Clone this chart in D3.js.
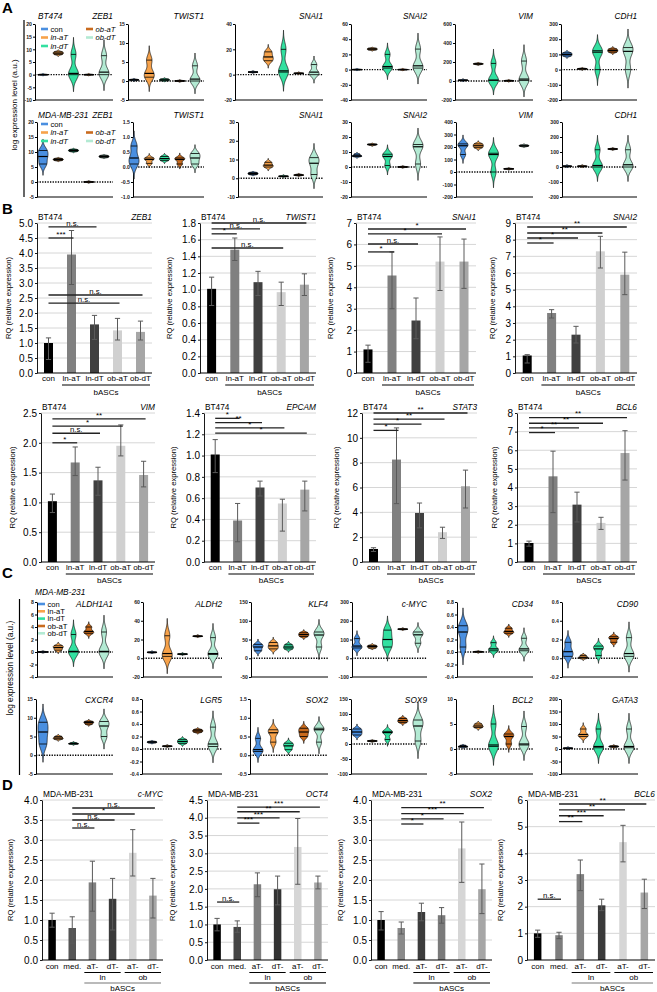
<!DOCTYPE html>
<html><head><meta charset="utf-8">
<script src="https://cdn.jsdelivr.net/npm/d3@7"></script>
<style>body{margin:0;background:#fff}svg{display:block}</style>
</head><body>
<svg id="fig" width="657" height="992"></svg>
<script>
// ===================== DATA =====================
const groupsV = ["con","ln-aT","ln-dT","ob-aT","ob-dT"];
// Panel A
const genesA = ["ZEB1","TWIST1","SNAI1","SNAI2","VIM","CDH1"];
const violinsA_BT474 = [
  [[0,0,0],[8,8.5,9],[0,0.5,8],[0,0,0],[0,1,7.5]],
  [[0.2,0.3,0.4],[1,2,5.5],[0.1,0.3,0.5],[0,0,0.05],[0,0.5,4]],
  [[2,2,2.2],[11,14,18],[2,3,20],[1,1,1.2],[0,2,8]],
  [[0,0,0.1],[26,27,28],[2,4,20],[0,0,0.1],[2,5,27]],
  [[5,8,10],[175,180,185],[5,10,185],[2,2,4],[5,20,210]],
  [[90,100,110],[3,5,7],[0,115,125],[115,125,135],[0,120,145]]
];
const domainsA_BT474 = [[-10,20],[-5,15],[-20,40],[-40,60],[-200,600],[-200,300]];
const stepsA_BT474 = [5,5,20,20,200,100];
const violinsA_MDA = [
  [[6,8.5,10.5],[7.2,7.5,7.8],[10.2,10.5,10.8],[0,0,0.05],[8.2,8.5,8.8]],
  [[0.1,0.3,0.7],[0.12,0.25,0.3],[0.22,0.28,0.35],[0.1,0.25,0.3],[0.1,0.3,0.45]],
  [[2,2.5,3],[6,7,8.5],[1,1,1.2],[1.5,1.7,2],[2,8,11]],
  [[7,7.5,8.5],[14.6,15,15.2],[1,7,8.5],[0,0,0.1],[2,13.5,15]],
  [[140,210,225],[195,210,225],[0,140,150],[25,25,26],[205,210,215]],
  [[3,5,7],[3,5,7],[0,10,115],[118,120,122],[0,15,115]]
];
const domainsA_MDA = [[-5,20],[-1,1.5],[-10,30],[-20,30],[-200,400],[-200,300]];
const stepsA_MDA = [5,0.5,10,10,100,100];
// Panel C
const genesC1 = ["ALDH1A1","ALDH2","KLF4","c-MYC","CD34","CD90"];
const violinsC1 = [
  [[0,0,0.02],[0.3,0.7,1.0],[0,0.1,2.8],[3,3.3,4],[0,0.1,3.2]],
  [[6,6.3,6.6],[2,5,24],[4.2,4.4,4.6],[23.2,23.5,23.8],[4,5,22]],
  [[20,30,37],[25,33,42],[25,30,36],[58,63,68],[30,62,70]],
  [[55,65,105],[55,62,68],[60,100,150],[154,155,156],[80,125,140]],
  [[0.08,0.32,0.42],[0,0.003,0.006],[0.02,0.05,0.15],[0.3,0.33,0.38],[0.02,0.05,0.22]],
  [[0.02,0.07,0.17],[0,0.01,0.03],[0.03,0.1,0.13],[0.17,0.21,0.23],[0.02,0.05,0.22]]
];
const domainsC1 = [[-4,8],[-20,60],[-50,150],[-100,300],[-0.4,0.8],[-0.2,0.6]];
const stepsC1 = [2,20,50,100,0.2,0.2];
const genesC2 = ["CXCR4","LGR5","SOX2","SOX9","BCL2","GATA3"];
const violinsC2 = [
  [[3,6.2,8.8],[4.3,4.6,5],[3,3.1,3.3],[8.3,8.7,9],[5,7.8,9]],
  [[0.1,0.11,0.12],[0.04,0.045,0.05],[0.09,0.12,0.15],[0.27,0.29,0.31],[0.04,0.08,0.35]],
  [[0.1,0.15,0.45],[0.35,0.6,0.68],[0.15,0.25,0.32],[0.5,0.62,0.72],[0.35,0.68,0.72]],
  [[30,40,50],[9,10,11],[15,38,42],[72,78,85],[10,60,80]],
  [[0.4,0.5,0.7],[4.3,4.6,5],[0.5,0.8,5],[1,2.5,3],[0.8,1,4.5]],
  [[2,3,4],[50,58,80],[5,10,80],[8,10,12],[5,10,80]]
];
const domainsC2 = [[-5,15],[-0.4,0.8],[-0.5,1.5],[-100,150],[-5,10],[-100,200]];
const stepsC2 = [5,0.2,0.5,50,5,50];
// Panel B
const groupsB = ["con","ln-aT","ln-dT","ob-aT","ob-dT"];
const genesB = ["ZEB1","TWIST1","SNAI1","SNAI2","VIM","EPCAM","STAT3","BCL6"];
const meanB = [
  [1.00,3.95,1.62,1.42,1.37],[1.01,1.48,1.09,0.97,1.06],[1.10,4.55,2.45,5.20,5.20],[1.05,3.60,2.30,7.30,5.90],
  [1.02,1.67,1.37,1.95,1.46],[1.01,0.39,0.70,0.55,0.68],[1.05,8.25,3.95,2.40,6.10],[1.02,4.60,3.08,2.10,5.85]];
const errLowB = [
  [0.45,2.95,1.12,1.10,1.10],[0.81,1.35,0.93,0.81,0.93],[0.50,3.00,1.60,3.85,3.95],[0.60,3.30,1.80,6.30,4.70],
  [0.83,1.45,1.12,1.78,1.26],[0.84,0.19,0.62,0.29,0.48],[0.85,4.70,2.75,1.90,4.35],[0.85,2.65,2.15,1.75,4.40]];
const errHighB = [
  [1.17,4.75,1.92,1.82,1.73],[1.15,1.62,1.22,1.09,1.19],[1.30,5.65,3.50,6.35,6.25],[1.10,3.80,2.80,8.20,7.25],
  [1.14,1.93,1.59,2.30,1.69],[1.15,0.55,0.76,0.59,0.76],[1.15,10.80,4.75,2.80,7.40],[1.12,5.95,3.75,2.40,7.05]];
const yMaxB = [5,1.8,7,9,2.5,1.4,12,8];
const yStepB = [0.5,0.2,1,1,0.5,0.2,2,1];
// significance: [fromIndex, toIndex, yValue, label]
const sigB = [
  [[0,2,4.87,"n.s."],[0,1,4.5,"***"],[0,4,2.6,"n.s."],[0,3,2.33,"n.s."]],
  [[0,4,1.8,"n.s."],[0,2,1.73,"n.s."],[0,1,1.67,"*"],[0,3,1.5,"n.s."]],
  [[0,4,6.72,"*"],[0,3,6.49,"*"],[0,2,6.02,"n.s."],[0,1,5.65,"*"]],
  [[0,4,8.76,"**"],[0,3,8.4,"**"],[0,2,8.1,"*"],[0,1,7.8,"*"]],
  [[0,4,2.4,"**"],[0,3,2.28,"*"],[0,2,2.16,"n.s."],[0,1,2.0,"*"]],
  [[0,1,1.35,"*"],[0,2,1.31,"**"],[0,3,1.26,"*"],[0,4,1.21,"*"]],
  [[0,4,12.0,"**"],[0,3,11.5,"**"],[0,2,11.1,"*"],[0,1,10.6,"*"]],
  [[0,4,7.75,"**"],[0,3,7.45,"**"],[0,2,7.2,"**"],[0,1,6.95,"*"]]];
// Panel D
const groupsD = ["con","med.","aT-","dT-","aT-","dT-"];
const subGroupsD = [["ln",2,3],["ob",4,5]];
const genesD = ["c-MYC","OCT4","SOX2","BCL6"];
const meanD = [[1.00,0.80,1.94,1.53,2.68,1.61],[1.00,0.93,2.13,1.99,3.18,2.18],[1.00,0.80,1.20,1.12,2.79,1.77],[1.00,0.93,3.22,2.05,4.42,2.53]];
const errLowD = [[0.82,0.42,1.22,0.75,2.10,1.05],[0.82,0.78,1.78,1.55,2.13,2.00],[0.75,0.65,0.98,0.92,1.94,1.16],[0.85,0.80,2.60,1.85,3.68,1.93]];
const errHighD = [[1.17,1.08,2.47,2.04,3.26,2.04],[1.17,1.10,2.45,2.36,3.98,2.36],[1.21,0.95,1.42,1.31,3.45,2.40],[1.12,1.04,3.75,2.28,5.05,3.03]];
const yMaxD = [4,4.5,4,6];
const yStepD = [0.5,0.5,0.5,1];
const sigD = [
  [[1,5,3.8,"n.s."],[1,4,3.65,"*"],[1,3,3.5,"n.s."],[1,2,3.3,"n.s."]],
  [[1,5,4.3,"***"],[1,4,4.17,"**"],[1,3,4.0,"***"],[1,2,3.85,"***"],[0,1,1.63,"n.s."]],
  [[1,5,3.81,"**"],[1,4,3.66,"***"],[1,3,3.53,"*"],[1,2,3.4,"*"]],
  [[1,5,5.85,"**"],[1,4,5.63,"**"],[1,3,5.41,"***"],[1,2,5.19,"**"],[0,1,2.28,"n.s."]]];

// ===================== STYLE / LAYOUT =====================
const FONT = "'Liberation Sans', Arial, Helvetica, sans-serif";
const vColors = {"con":"#4a8fe0","ln-aT":"#f7a24a","ln-dT":"#33e0a0","ob-aT":"#c96b1e","ob-dT":"#b3ead3"};
const barColorsB = ["#000000","#808080","#404040","#d0d0d0","#a6a6a6"];
const barColorsD = [
  ["#000000","#555555","#808080","#3a3a3a","#d6d6d6","#a6a6a6"],
  ["#000000","#454545","#808080","#333333","#d6d6d6","#a6a6a6"],
  ["#000000","#8a8a8a","#3c3c3c","#7a7a7a","#d6d6d6","#a6a6a6"],
  ["#000000","#7d7d7d","#808080","#3a3a3a","#d6d6d6","#a6a6a6"]];

const svg = d3.select("#fig").style("font-family", FONT);
const fmt = (v, step) => { const r = Math.abs(v) < 1e-9 ? 0 : v; return r.toFixed(step >= 1 ? 0 : 1); };

function letter(t, x, y){ svg.append("text").attr("x",x).attr("y",y).attr("font-size",15).attr("font-weight","bold").text(t); }
function vtext(t, x, y, size){
  svg.append("text").attr("transform",`translate(${x},${y}) rotate(-90)`).attr("text-anchor","middle")
    .attr("font-size",size).text(t);
}

// ---------- violin ----------
function drawViolin(g, vals, y, cx, hw, color){
  const s = vals.slice().sort((a,b)=>a-b);
  const dom = y.domain(); const span = dom[1]-dom[0];
  const rng = s[s.length-1]-s[0];
  const h = Math.max(0.28*rng, 0.006*span);
  const lo = s[0]-3*h, hi = s[s.length-1]+3*h;
  const dens = v => d3.sum(s, x => Math.exp(-0.5*((v-x)/h)**2));
  const pts = d3.range(81).map(i => { const v = lo+(hi-lo)*i/80; return [v, dens(v)]; });
  const dmax = d3.max(pts, p=>p[1]);
  const area = d3.area().y(p=>y(p[0])).x0(p=>cx-hw*p[1]/dmax).x1(p=>cx+hw*p[1]/dmax).curve(d3.curveBasis);
  g.append("path").attr("d", area(pts)).attr("fill", color).attr("stroke","#111").attr("stroke-width",0.7);
  s.forEach((v,i) => {
    const w = hw*dens(v)/dmax;
    g.append("line").attr("x1",cx-w).attr("x2",cx+w).attr("y1",y(v)).attr("y2",y(v))
      .attr("stroke","#000").attr("stroke-width", i===1 ? 1.2 : 0.8);
  });
}

function violinPlot(o){
  const g = svg.append("g");
  const y = d3.scaleLinear().domain(o.domain).range([o.bottom, o.top]);
  const x = d3.scalePoint().domain(groupsV).range([o.x1-70, o.x1-9]);
  const ticks = d3.range(o.domain[0], o.domain[1]+o.step/2, o.step);
  const ax = g.append("g").attr("transform",`translate(${o.x0},0)`)
    .call(d3.axisLeft(y).tickValues(ticks).tickSize(2).tickSizeOuter(0).tickFormat(v=>fmt(v,o.step)));
  ax.selectAll("path,line").attr("stroke","#000").attr("stroke-width",1);
  ax.selectAll("text").attr("font-size",5.2).attr("font-weight","bold").attr("fill","#222").attr("x",-3).attr("font-family",FONT);
  g.append("line").attr("x1",o.x0).attr("x2",o.x1).attr("y1",o.bottom).attr("y2",o.bottom).attr("stroke","#000").attr("stroke-width",1);
  g.append("line").attr("x1",o.x0).attr("x2",o.x1).attr("y1",y(0)).attr("y2",y(0))
    .attr("stroke","#000").attr("stroke-width",1.3).attr("stroke-dasharray","1.3,1.3");
  o.vals.forEach((v,i) => drawViolin(g, v, y, x(groupsV[i]), 5, vColors[groupsV[i]]));
  g.append("text").attr("x",o.x1).attr("y",o.titleY).attr("text-anchor","end").attr("font-size",8.3)
    .attr("font-style","italic").text(o.gene);
}

function legend(x, items, ys, italic){
  items.forEach((k,i)=>{
    svg.append("line").attr("x1",x).attr("x2",x+7).attr("y1",ys[i]).attr("y2",ys[i]).attr("stroke",vColors[k]).attr("stroke-width",2.6);
    svg.append("text").attr("x",x+9.5).attr("y",ys[i]+2.6).attr("font-size",7.6)
      .attr("font-style", (italic && k!=="con") ? "italic":"normal").text(k);
  });
}

// ---------- bar ----------
function barPlot(o){
  const g = svg.append("g");
  const n = o.mean.length;
  const x = d3.scaleBand().domain(d3.range(n)).range([o.x0, o.x1]);
  const xc = i => x(i) + x.bandwidth()/2;
  const y = d3.scaleLinear().domain([0, o.yMax]).range([o.bottom, o.top]);
  const ticks = d3.range(0, o.yMax + o.step/2, o.step);
  g.selectAll(".grid").data(ticks.slice(1)).enter().append("line")
    .attr("x1",o.x0).attr("x2",o.x1).attr("y1",d=>y(d)).attr("y2",d=>y(d)).attr("stroke","#d6d6d6").attr("stroke-width",1);
  const ax = g.append("g").attr("transform",`translate(${o.x0},0)`)
    .call(d3.axisLeft(y).tickValues(ticks).tickSize(2).tickSizeOuter(0).tickFormat(v=>fmt(v,o.step)));
  ax.selectAll("path,line").attr("stroke","#000").attr("stroke-width",0.9);
  ax.selectAll("text").attr("font-size",o.tickSize).attr("fill","#000").attr("x",-4).attr("font-family",FONT);
  const bw = o.barW;
  g.selectAll(".bar").data(o.mean).enter().append("rect")
    .attr("x",(d,i)=>xc(i)-bw/2).attr("width",bw).attr("y",d=>y(d)).attr("height",d=>y(0)-y(d))
    .attr("fill",(d,i)=>o.colors[i]);
  o.mean.forEach((d,i)=>{
    const c = xc(i), l = y(o.lo[i]), h = y(o.hi[i]);
    g.append("line").attr("x1",c).attr("x2",c).attr("y1",l).attr("y2",h).attr("stroke","#5a5a5a").attr("stroke-width",1);
    [l,h].forEach(yy => g.append("line").attr("x1",c-2.6).attr("x2",c+2.6).attr("y1",yy).attr("y2",yy).attr("stroke","#5a5a5a").attr("stroke-width",1));
  });
  g.append("line").attr("x1",o.x0).attr("x2",o.x1).attr("y1",y(0)).attr("y2",y(0)).attr("stroke","#000").attr("stroke-width",1);
  // significance
  o.sig.forEach(s=>{
    const x1 = xc(s[0]), x2 = xc(s[1]) + 2, yy = y(s[2]);
    g.append("line").attr("x1",x1).attr("x2",x2).attr("y1",yy).attr("y2",yy).attr("stroke","#222").attr("stroke-width",1.3);
    g.append("text").attr("x",(x1+x2)/2).attr("y", yy-1.2).attr("text-anchor","middle")
      .attr("font-size", s[3]==="n.s." ? 7.8 : 8).text(s[3]);
  });
  // titles
  g.append("text").attr("x",o.x0+1).attr("y",o.top-3).attr("font-size",8.3).text(o.cell);
  g.append("text").attr("x",o.x1).attr("y",o.top-3).attr("font-size",8.3).attr("font-style","italic").attr("text-anchor","end").text(o.gene);
  // x labels
  g.selectAll(".xl").data(o.labels).enter().append("text").attr("x",(d,i)=>xc(i)).attr("y",o.labY)
    .attr("text-anchor","middle").attr("font-size",8).text(d=>d);
  // brackets
  const under = (i0,i1,yy,label,ty,col) => {
    const a = x(i0)+2, b = x(i1)+x.bandwidth()-2;
    g.append("line").attr("x1",a).attr("x2",b).attr("y1",yy).attr("y2",yy).attr("stroke",col||"#000").attr("stroke-width",1.1);
    g.append("text").attr("x",(a+b)/2).attr("y",ty).attr("text-anchor","middle").attr("font-size",8).text(label);
  };
  (o.subs||[]).forEach(sg => under(sg[1], sg[2], o.subLineY, sg[0], o.subTextY));
  under(o.bascFrom, n-1, o.bascLineY, "bASCs", o.bascTextY, o.bascCol);
  vtext("RQ (relative expression)", o.x0 - o.ylabOff, (o.top+o.bottom)/2, 7.6);
}

// ===================== PANEL A =====================
letter("A", 2, 13);
vtext("log expression level (a.u.)", 17, 105, 8);
svg.append("line").attr("x1",24).attr("x2",24).attr("y1",20).attr("y2",197).attr("stroke","#000").attr("stroke-width",1.2);
const colsA1 = [[35,113],[128,204],[235,323],[351,427],[455,533],[561,637]];
const colsA2 = [[37,113],[133,204],[238,323],[351,427],[456,533],[562,637]];
genesA.forEach((gene,i)=>{
  violinPlot({x0:colsA1[i][0],x1:colsA1[i][1],top:24,bottom:100,titleY:19,domain:domainsA_BT474[i],step:stepsA_BT474[i],vals:violinsA_BT474[i],gene});
  violinPlot({x0:colsA2[i][0],x1:colsA2[i][1],top:122,bottom:197,titleY:118,domain:domainsA_MDA[i],step:stepsA_MDA[i],vals:violinsA_MDA[i],gene});
});
svg.append("text").attr("x",38).attr("y",19).attr("font-size",8.3).attr("font-style","italic").text("BT474");
svg.append("text").attr("x",38).attr("y",118).attr("font-size",8.3).attr("font-style","italic").text("MDA-MB-231");
legend(41, ["con","ln-aT","ln-dT"], [29,37.5,46], true);
legend(86, ["ob-aT","ob-dT"], [29,37.5], true);
legend(41, ["con","ln-aT","ln-dT"], [124,132.5,141], true);
legend(86, ["ob-aT","ob-dT"], [132.5,141], true);

// ===================== PANEL B =====================
letter("B", 2, 214);
const colsB = [[37,152],[200,316],[356,476],[515,637],[41,155],[204,316],[362,477],[517,637]];
const rowB = [{top:223,bottom:373,labY:381,lineY:385,textY:395},{top:413,bottom:562,labY:570,lineY:574,textY:583}];
const ylabOffB = [26,28,23,20,26,28,23,20];
genesB.forEach((gene,i)=>{
  const r = rowB[Math.floor(i/4)];
  barPlot({x0:colsB[i][0],x1:colsB[i][1],top:r.top,bottom:r.bottom,yMax:yMaxB[i],step:yStepB[i],
    mean:meanB[i],lo:errLowB[i],hi:errHighB[i],sig:sigB[i],colors:barColorsB,cell:"BT474",gene,
    labels:groupsB,labY:r.labY,bascFrom:1,bascLineY:r.lineY,bascTextY:r.textY,barW:9,tickSize:10,ylabOff:ylabOffB[i]});
});

// ===================== PANEL C =====================
letter("C", 2, 578);
svg.append("text").attr("x",35).attr("y",595).attr("font-size",8.3).attr("font-style","italic").text("MDA-MB-231");
vtext("log expression level (a.u.)", 13, 668, 8.3);
svg.append("line").attr("x1",19.5).attr("x2",19.5).attr("y1",599).attr("y2",775).attr("stroke","#000").attr("stroke-width",1.2);
const colsC = [[37,113],[143,222],[251,328],[352,427],[457,533],[562,638]];
genesC1.forEach((gene,i)=>{
  violinPlot({x0:colsC[i][0],x1:colsC[i][1],top:602,bottom:677,titleY:607,domain:domainsC1[i],step:stepsC1[i],vals:violinsC1[i],gene});
});
genesC2.forEach((gene,i)=>{
  violinPlot({x0:colsC[i][0]-1,x1:colsC[i][1],top:699,bottom:774,titleY:703,domain:domainsC2[i],step:stepsC2[i],vals:violinsC2[i],gene});
});
legend(38, groupsV, [604,611.3,618.6,626,633.3], false);

// ===================== PANEL D =====================
letter("D", 2, 790);
const colsD = [[42,163],[207,328],[371,492],[527,655]];
const ylabOffD = [29,32,28,24];
const bascColD = ["#777","#000","#000","#777"];
genesD.forEach((gene,i)=>{
  barPlot({x0:colsD[i][0],x1:colsD[i][1],top:800,bottom:960,yMax:yMaxD[i],step:yStepD[i],
    mean:meanD[i],lo:errLowD[i],hi:errHighD[i],sig:sigD[i],colors:barColorsD[i],cell:"MDA-MB-231",gene,
    labels:groupsD,labY:969,subs:subGroupsD,subLineY:972.5,subTextY:980,bascFrom:2,bascLineY:983,bascTextY:991,bascCol:bascColD[i],
    barW:7.5,tickSize:10,ylabOff:ylabOffD[i]});
});
</script>
</body></html>
